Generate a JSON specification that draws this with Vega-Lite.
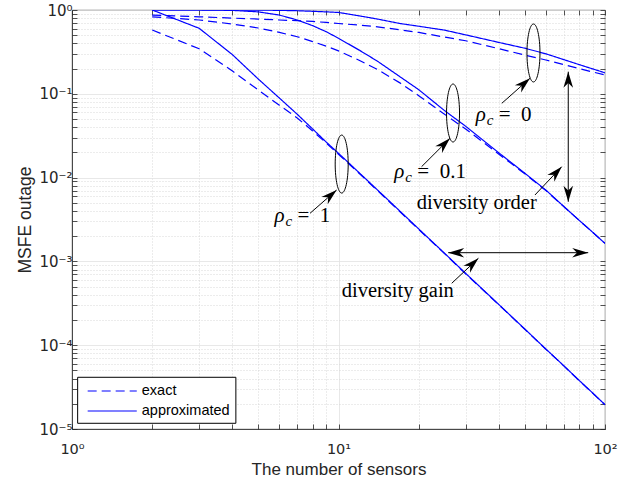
{
  "$schema": "https://vega.github.io/schema/vega-lite/v6.json",
  "width": 533,
  "height": 419,
  "autosize": {"type": "none"},
  "padding": {"left": 72, "top": 10, "right": 31, "bottom": 60},
  "background": "white",
  "config": {
    "view": {"stroke": "#262626", "strokeWidth": 0.8},
    "font": "Liberation Sans",
    "axis": {"labelFont": "DejaVu Sans", "titleFont": "Liberation Sans"}
  },
  "datasets": {
    "series": [
      {"n":2,"v":1,"rho":"0","type":"approximated"},{"n":3,"v":1,"rho":"0","type":"approximated"},{"n":4,"v":1,"rho":"0","type":"approximated"},{"n":5,"v":0.998,"rho":"0","type":"approximated"},{"n":6,"v":0.99,"rho":"0","type":"approximated"},{"n":7,"v":0.98,"rho":"0","type":"approximated"},{"n":8,"v":0.965,"rho":"0","type":"approximated"},{"n":9,"v":0.95,"rho":"0","type":"approximated"},{"n":10,"v":0.935,"rho":"0","type":"approximated"},{"n":12,"v":0.85,"rho":"0","type":"approximated"},{"n":14,"v":0.78,"rho":"0","type":"approximated"},{"n":17,"v":0.69,"rho":"0","type":"approximated"},{"n":20,"v":0.64,"rho":"0","type":"approximated"},{"n":25,"v":0.575,"rho":"0","type":"approximated"},{"n":30,"v":0.505,"rho":"0","type":"approximated"},{"n":40,"v":0.41,"rho":"0","type":"approximated"},{"n":50,"v":0.35,"rho":"0","type":"approximated"},{"n":60,"v":0.3,"rho":"0","type":"approximated"},{"n":70,"v":0.256,"rho":"0","type":"approximated"},{"n":80,"v":0.223,"rho":"0","type":"approximated"},{"n":90,"v":0.198,"rho":"0","type":"approximated"},{"n":100,"v":0.178,"rho":"0","type":"approximated"},
      {"n":2,"v":0.87,"rho":"0","type":"exact"},{"n":3,"v":0.83,"rho":"0","type":"exact"},{"n":4,"v":0.8,"rho":"0","type":"exact"},{"n":5,"v":0.78,"rho":"0","type":"exact"},{"n":6,"v":0.76,"rho":"0","type":"exact"},{"n":7,"v":0.745,"rho":"0","type":"exact"},{"n":8,"v":0.73,"rho":"0","type":"exact"},{"n":9,"v":0.71,"rho":"0","type":"exact"},{"n":10,"v":0.69,"rho":"0","type":"exact"},{"n":12,"v":0.66,"rho":"0","type":"exact"},{"n":14,"v":0.63,"rho":"0","type":"exact"},{"n":17,"v":0.58,"rho":"0","type":"exact"},{"n":20,"v":0.54,"rho":"0","type":"exact"},{"n":25,"v":0.475,"rho":"0","type":"exact"},{"n":30,"v":0.43,"rho":"0","type":"exact"},{"n":40,"v":0.345,"rho":"0","type":"exact"},{"n":50,"v":0.29,"rho":"0","type":"exact"},{"n":60,"v":0.253,"rho":"0","type":"exact"},{"n":70,"v":0.223,"rho":"0","type":"exact"},{"n":80,"v":0.2,"rho":"0","type":"exact"},{"n":90,"v":0.182,"rho":"0","type":"exact"},{"n":100,"v":0.168,"rho":"0","type":"exact"},
      {"n":2,"v":1,"rho":"0.1","type":"approximated"},{"n":3,"v":1,"rho":"0.1","type":"approximated"},{"n":4,"v":0.99,"rho":"0.1","type":"approximated"},{"n":5,"v":0.95,"rho":"0.1","type":"approximated"},{"n":6,"v":0.87,"rho":"0.1","type":"approximated"},{"n":7,"v":0.76,"rho":"0.1","type":"approximated"},{"n":8,"v":0.65,"rho":"0.1","type":"approximated"},{"n":9,"v":0.55,"rho":"0.1","type":"approximated"},{"n":10,"v":0.46,"rho":"0.1","type":"approximated"},{"n":12,"v":0.33,"rho":"0.1","type":"approximated"},{"n":14,"v":0.245,"rho":"0.1","type":"approximated"},{"n":17,"v":0.16,"rho":"0.1","type":"approximated"},{"n":20,"v":0.112,"rho":"0.1","type":"approximated"},{"n":25,"v":0.063,"rho":"0.1","type":"approximated"},{"n":30,"v":0.041,"rho":"0.1","type":"approximated"},{"n":40,"v":0.0197,"rho":"0.1","type":"approximated"},{"n":50,"v":0.0113,"rho":"0.1","type":"approximated"},{"n":60,"v":0.0071,"rho":"0.1","type":"approximated"},{"n":70,"v":0.00453,"rho":"0.1","type":"approximated"},{"n":80,"v":0.00309,"rho":"0.1","type":"approximated"},{"n":90,"v":0.00222,"rho":"0.1","type":"approximated"},{"n":100,"v":0.00164,"rho":"0.1","type":"approximated"},
      {"n":2,"v":0.83,"rho":"0.1","type":"exact"},{"n":3,"v":0.76,"rho":"0.1","type":"exact"},{"n":4,"v":0.68,"rho":"0.1","type":"exact"},{"n":5,"v":0.61,"rho":"0.1","type":"exact"},{"n":6,"v":0.54,"rho":"0.1","type":"exact"},{"n":7,"v":0.48,"rho":"0.1","type":"exact"},{"n":8,"v":0.42,"rho":"0.1","type":"exact"},{"n":9,"v":0.37,"rho":"0.1","type":"exact"},{"n":10,"v":0.325,"rho":"0.1","type":"exact"},{"n":12,"v":0.25,"rho":"0.1","type":"exact"},{"n":14,"v":0.195,"rho":"0.1","type":"exact"},{"n":17,"v":0.135,"rho":"0.1","type":"exact"},{"n":20,"v":0.095,"rho":"0.1","type":"exact"},{"n":25,"v":0.057,"rho":"0.1","type":"exact"},{"n":30,"v":0.038,"rho":"0.1","type":"exact"},{"n":40,"v":0.019,"rho":"0.1","type":"exact"},{"n":50,"v":0.0111,"rho":"0.1","type":"exact"},{"n":60,"v":0.007,"rho":"0.1","type":"exact"},{"n":70,"v":0.00452,"rho":"0.1","type":"exact"},{"n":80,"v":0.00309,"rho":"0.1","type":"exact"},{"n":90,"v":0.00222,"rho":"0.1","type":"exact"},{"n":100,"v":0.00164,"rho":"0.1","type":"exact"},
      {"n":2,"v":1,"rho":"1","type":"approximated"},{"n":3,"v":0.605,"rho":"1","type":"approximated"},{"n":4,"v":0.293,"rho":"1","type":"approximated"},{"n":5,"v":0.15,"rho":"1","type":"approximated"},{"n":6,"v":0.089,"rho":"1","type":"approximated"},{"n":7,"v":0.057,"rho":"1","type":"approximated"},{"n":8,"v":0.038,"rho":"1","type":"approximated"},{"n":9,"v":0.0265,"rho":"1","type":"approximated"},{"n":10,"v":0.0195,"rho":"1","type":"approximated"},{"n":12,"v":0.0113,"rho":"1","type":"approximated"},{"n":15,"v":0.0058,"rho":"1","type":"approximated"},{"n":20,"v":0.00244,"rho":"1","type":"approximated"},{"n":25,"v":0.00125,"rho":"1","type":"approximated"},{"n":30,"v":0.00072,"rho":"1","type":"approximated"},{"n":40,"v":0.000305,"rho":"1","type":"approximated"},{"n":50,"v":0.000156,"rho":"1","type":"approximated"},{"n":60,"v":0.00009,"rho":"1","type":"approximated"},{"n":70,"v":0.000057,"rho":"1","type":"approximated"},{"n":80,"v":0.000038,"rho":"1","type":"approximated"},{"n":90,"v":0.0000268,"rho":"1","type":"approximated"},{"n":100,"v":0.0000195,"rho":"1","type":"approximated"},
      {"n":2,"v":0.577,"rho":"1","type":"exact"},{"n":3,"v":0.345,"rho":"1","type":"exact"},{"n":4,"v":0.187,"rho":"1","type":"exact"},{"n":5,"v":0.111,"rho":"1","type":"exact"},{"n":6,"v":0.073,"rho":"1","type":"exact"},{"n":7,"v":0.0515,"rho":"1","type":"exact"},{"n":8,"v":0.036,"rho":"1","type":"exact"},{"n":9,"v":0.0258,"rho":"1","type":"exact"},{"n":10,"v":0.019,"rho":"1","type":"exact"},{"n":12,"v":0.0111,"rho":"1","type":"exact"},{"n":15,"v":0.0057,"rho":"1","type":"exact"},{"n":20,"v":0.0024,"rho":"1","type":"exact"},{"n":25,"v":0.00124,"rho":"1","type":"exact"},{"n":30,"v":0.00071,"rho":"1","type":"exact"},{"n":40,"v":0.000303,"rho":"1","type":"exact"},{"n":50,"v":0.000155,"rho":"1","type":"exact"},{"n":60,"v":0.0000895,"rho":"1","type":"exact"},{"n":70,"v":0.0000567,"rho":"1","type":"exact"},{"n":80,"v":0.0000378,"rho":"1","type":"exact"},{"n":90,"v":0.0000267,"rho":"1","type":"exact"},{"n":100,"v":0.0000194,"rho":"1","type":"exact"}
    ],
    "arrows": [
      {"n":7.82,"v":0.00375,"n2":9.84,"v2":0.00711},
      {"n":20.5,"v":0.0135,"n2":26.2,"v2":0.0294},
      {"n":41.0,"v":0.077,"n2":52.3,"v2":0.153},
      {"n":72.8,"v":0.1836,"n2":72.8,"v2":0.00515},
      {"n":54.6,"v":0.0062,"n2":68.8,"v2":0.0135},
      {"n":25.8,"v":0.00127,"n2":86.5,"v2":0.00127},
      {"n":26.6,"v":0.000548,"n2":33.5,"v2":0.00109}
    ],
    "heads": [
      {"n":9.84,"v":0.00711,"dir":49},
      {"n":26.2,"v":0.0294,"dir":45},
      {"n":52.3,"v":0.153,"dir":48.5},
      {"n":72.8,"v":0.1836,"dir":0},
      {"n":72.8,"v":0.00515,"dir":180},
      {"n":68.8,"v":0.0135,"dir":43},
      {"n":25.8,"v":0.00127,"dir":270},
      {"n":86.5,"v":0.00127,"dir":90},
      {"n":33.5,"v":0.00109,"dir":47}
    ],
    "ellipses": [
      {"n":10.28,"v":0.0145},
      {"n":26.9,"v":0.059},
      {"n":53.9,"v":0.307}
    ],
    "rholabels": [
      {"n":5.75,"v":0.00295,"rest":"=\u20021"},
      {"n":16.2,"v":0.00981,"rest":"=\u20020.1"},
      {"n":32.7,"v":0.0478,"rest":"=\u20020"}
    ],
    "words": [
      {"n":19.65,"v":0.00422,"t":"diversity order"},
      {"n":10.28,"v":0.000373,"t":"diversity gain"}
    ],
    "legendbox": [
      {"n":1.05,"v":0.0000414,"n2":4.12,"v2":0.0000117}
    ],
    "legendkeys": [
      {"n":1.145,"n2":1.75,"v":0.0000284,"type":"exact","label":"exact"},
      {"n":1.145,"n2":1.75,"v":0.0000164,"type":"approximated","label":"approximated"}
    ]
  },
  "resolve": {"axis": {"x": "independent", "y": "independent"}},
  "layer": [
    {
      "layer": [
        {
          "data": {"name": "series"},
          "mark": {"type": "line", "color": "#0000ff", "strokeWidth": 1.2, "clip": true},
          "encoding": {
            "x": {
              "field": "n", "type": "quantitative",
              "scale": {"type": "log", "domain": [1, 100], "nice": false},
              "axis": {
                "values": [1,2,3,4,5,6,7,8,9,10,20,30,40,50,60,70,80,90,100],
                "labelExpr": "datum.value == 1 ? '10⁰' : datum.value == 10 ? '10¹' : datum.value == 100 ? '10²' : ''",
                "labelFontSize": 14.5, "labelColor": "#262626", "labelPadding": 18,
                "labelFlush": false, "labelOverlap": false,
                "title": "The number of sensors", "titleFontSize": 17, "titleFontWeight": "normal", "titleColor": "#262626", "titlePadding": 6,
                "tickSize": -5, "tickColor": "#262626", "tickWidth": 0.8,
                "domainColor": "#262626", "domainWidth": 0.8,
                "grid": true,
                "gridColor": {"condition": {"test": "datum.value == 1 || datum.value == 10 || datum.value == 100", "value": "#e2e2e2"}, "value": "#cfcfcf"},
                "gridDash": {"condition": {"test": "datum.value == 1 || datum.value == 10 || datum.value == 100", "value": []}, "value": [1, 2]},
                "gridWidth": 0.8
              }
            },
            "y": {
              "field": "v", "type": "quantitative",
              "scale": {"type": "log", "domain": [0.00001, 1], "nice": false},
              "axis": {
                "values": [0.00001,0.00002,0.00003,0.00004,0.00005,0.00006,0.00007,0.00008,0.00009,0.0001,0.0002,0.0003,0.0004,0.0005,0.0006,0.0007,0.0008,0.0009,0.001,0.002,0.003,0.004,0.005,0.006,0.007,0.008,0.009,0.01,0.02,0.03,0.04,0.05,0.06,0.07,0.08,0.09,0.1,0.2,0.3,0.4,0.5,0.6,0.7,0.8,0.9,1],
                "labelExpr": "datum.value == 1 ? '10⁰' : datum.value == 0.1 ? '10⁻¹' : datum.value == 0.01 ? '10⁻²' : datum.value == 0.001 ? '10⁻³' : datum.value == 0.0001 ? '10⁻⁴' : datum.value == 0.00001 ? '10⁻⁵' : ''",
                "labelFontSize": 15, "labelColor": "#262626", "labelPadding": 5,
                "labelFlush": false, "labelOverlap": false,
                "title": "MSFE outage", "titleFontSize": 17.5, "titleFontWeight": "normal", "titleColor": "#262626", "titlePadding": 4,
                "tickSize": -5, "tickColor": "#262626", "tickWidth": 0.8,
                "domainColor": "#262626", "domainWidth": 0.8,
                "grid": true,
                "gridColor": {"condition": {"test": "datum.value == 1 || datum.value == 0.1 || datum.value == 0.01 || datum.value == 0.001 || datum.value == 0.0001 || datum.value == 0.00001", "value": "#e2e2e2"}, "value": "#cfcfcf"},
                "gridDash": {"condition": {"test": "datum.value == 1 || datum.value == 0.1 || datum.value == 0.01 || datum.value == 0.001 || datum.value == 0.0001 || datum.value == 0.00001", "value": []}, "value": [1, 2]},
                "gridWidth": 0.8
              }
            },
            "detail": {"field": "rho", "type": "nominal"},
            "strokeDash": {
              "field": "type", "type": "nominal",
              "scale": {"domain": ["exact", "approximated"], "range": [[9, 5], [1, 0]]},
              "legend": null
            }
          }
        },
        {
          "data": {"name": "arrows"},
          "mark": {"type": "rule", "color": "black", "strokeWidth": 1},
          "encoding": {
            "x": {"field": "n", "type": "quantitative"},
            "y": {"field": "v", "type": "quantitative"},
            "x2": {"field": "n2"},
            "y2": {"field": "v2"}
          }
        },
        {
          "data": {"name": "heads"},
          "mark": {"type": "point", "shape": "M0,0 L0.6,2 L0,1.4 L-0.6,2 Z", "filled": true, "color": "black", "opacity": 1, "size": 256},
          "encoding": {
            "x": {"field": "n", "type": "quantitative"},
            "y": {"field": "v", "type": "quantitative"},
            "angle": {"field": "dir", "type": "quantitative", "scale": null}
          }
        },
        {
          "data": {"name": "ellipses"},
          "mark": {"type": "point", "shape": "M0,-1 C0.1237,-1 0.224,-0.5523 0.224,0 C0.224,0.5523 0.1237,1 0,1 C-0.1237,1 -0.224,0.5523 -0.224,0 C-0.224,-0.5523 -0.1237,-1 0,-1 Z", "filled": false, "color": "black", "strokeWidth": 1, "opacity": 1, "size": 3364},
          "encoding": {
            "x": {"field": "n", "type": "quantitative"},
            "y": {"field": "v", "type": "quantitative"}
          }
        },
        {
          "data": {"name": "rholabels"},
          "mark": {"type": "text", "font": "Liberation Serif", "fontStyle": "italic", "fontSize": 21, "align": "left", "baseline": "alphabetic", "color": "black"},
          "encoding": {
            "x": {"field": "n", "type": "quantitative"},
            "y": {"field": "v", "type": "quantitative"},
            "text": {"value": "ρ"}
          }
        },
        {
          "data": {"name": "rholabels"},
          "mark": {"type": "text", "font": "Liberation Serif", "fontStyle": "italic", "fontSize": 15, "align": "left", "baseline": "alphabetic", "color": "black", "dx": 11, "dy": 4},
          "encoding": {
            "x": {"field": "n", "type": "quantitative"},
            "y": {"field": "v", "type": "quantitative"},
            "text": {"value": "c"}
          }
        },
        {
          "data": {"name": "rholabels"},
          "mark": {"type": "text", "font": "Liberation Serif", "fontSize": 21, "align": "left", "baseline": "alphabetic", "color": "black", "dx": 23},
          "encoding": {
            "x": {"field": "n", "type": "quantitative"},
            "y": {"field": "v", "type": "quantitative"},
            "text": {"field": "rest"}
          }
        },
        {
          "data": {"name": "words"},
          "mark": {"type": "text", "font": "Liberation Serif", "fontSize": 20.5, "align": "left", "baseline": "alphabetic", "color": "black"},
          "encoding": {
            "x": {"field": "n", "type": "quantitative"},
            "y": {"field": "v", "type": "quantitative"},
            "text": {"field": "t"}
          }
        },
        {
          "data": {"name": "legendbox"},
          "mark": {"type": "rect", "fill": "white", "stroke": "black", "strokeWidth": 1},
          "encoding": {
            "x": {"field": "n", "type": "quantitative"},
            "y": {"field": "v", "type": "quantitative"},
            "x2": {"field": "n2"},
            "y2": {"field": "v2"}
          }
        },
        {
          "data": {"name": "legendkeys"},
          "mark": {"type": "rule", "color": "#0000ff", "strokeWidth": 1.2},
          "encoding": {
            "x": {"field": "n", "type": "quantitative"},
            "y": {"field": "v", "type": "quantitative"},
            "x2": {"field": "n2"},
            "strokeDash": {"field": "type", "type": "nominal", "legend": null}
          }
        },
        {
          "data": {"name": "legendkeys"},
          "mark": {"type": "text", "font": "Liberation Sans", "fontSize": 14.5, "align": "left", "baseline": "middle", "color": "black", "dx": 5},
          "encoding": {
            "x": {"field": "n2", "type": "quantitative"},
            "y": {"field": "v", "type": "quantitative"},
            "text": {"field": "label"}
          }
        }
      ]
    },
    {
      "data": {"name": "series"},
      "mark": {"type": "point", "opacity": 0},
      "encoding": {
        "x": {
          "field": "n", "type": "quantitative",
          "axis": {"orient": "top", "values": [1,2,3,4,5,6,7,8,9,10,20,30,40,50,60,70,80,90,100], "labels": false, "title": null, "grid": false, "domain": false, "tickSize": -5, "tickColor": "#262626", "tickWidth": 0.8}
        },
        "y": {
          "field": "v", "type": "quantitative",
          "axis": {"orient": "right", "values": [0.00001,0.00002,0.00003,0.00004,0.00005,0.00006,0.00007,0.00008,0.00009,0.0001,0.0002,0.0003,0.0004,0.0005,0.0006,0.0007,0.0008,0.0009,0.001,0.002,0.003,0.004,0.005,0.006,0.007,0.008,0.009,0.01,0.02,0.03,0.04,0.05,0.06,0.07,0.08,0.09,0.1,0.2,0.3,0.4,0.5,0.6,0.7,0.8,0.9,1], "labels": false, "title": null, "grid": false, "domain": false, "tickSize": -5, "tickColor": "#262626", "tickWidth": 0.8}
        }
      }
    }
  ]
}
